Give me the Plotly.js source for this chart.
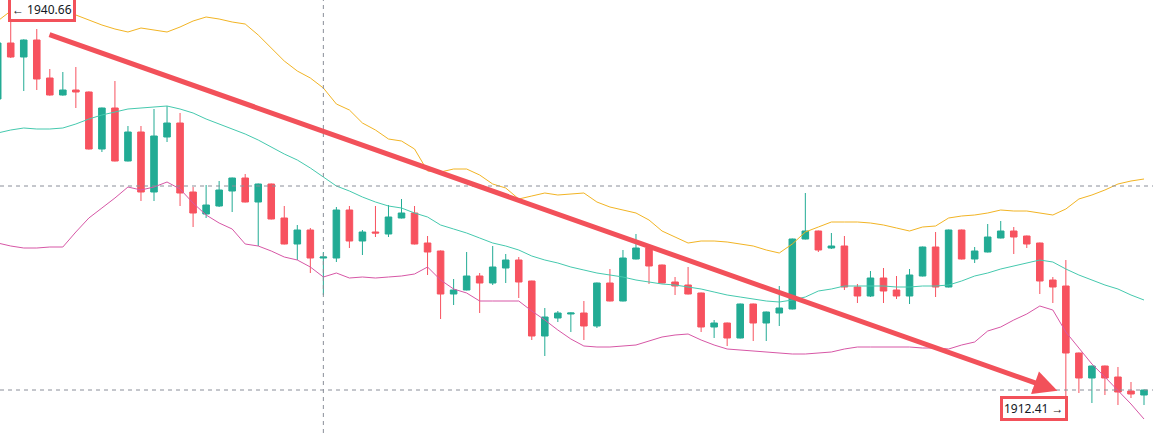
<!DOCTYPE html>
<html>
<head>
<meta charset="utf-8">
<script src="https://cdn.plot.ly/plotly-3.0.1.min.js"></script>
<style>
  html, body { margin: 0; padding: 0; background: #ffffff; }
  #chart { width: 1153px; height: 433px; }
</style>
</head>
<body>
<div id="chart"></div>
<script>
// ---- Data (XAUUSD-like price candles) ----
const openP = [1934.32,1938.24,1937.26,1938.45,1935.79,1934.60,1934.95,1934.81,1930.82,1933.69,
1929.98,1932.01,1927.81,1931.66,1932.64,1927.81,1926.27,1926.83,1927.88,1928.79,
1927.11,1928.37,1925.99,1924.17,1925.15,1923.19,1923.19,1926.55,1924.38,1925.01,
1924.87,1925.99,1926.34,1924.24,1923.68,1920.67,1920.95,1921.93,1921.44,1922.49,
1923.05,1921.58,1917.73,1918.99,1919.27,1919.34,1918.43,1921.44,1920.18,1923.12,
1923.89,1922.70,1921.51,1921.30,1920.74,1918.36,1918.64,1917.59,1919.97,1918.64,
1919.34,1919.62,1924.52,1925.08,1923.89,1924.03,1921.16,1920.53,1921.79,1920.95,
1920.53,1921.93,1923.96,1921.16,1925.15,1923.12,1923.61,1924.59,1925.08,1924.73,
1924.24,1921.65,1921.23,1916.54,1914.79,1915.63,1914.86,1913.88,1913.60];

const highP = [1938.45,1940.66,1938.50,1939.22,1936.42,1936.21,1936.56,1934.85,1933.72,1935.58,
1932.43,1932.43,1933.62,1933.83,1933.34,1928.16,1928.30,1928.58,1928.82,1929.07,
1928.40,1928.40,1926.83,1925.50,1925.29,1923.61,1926.76,1926.83,1925.15,1926.83,
1926.90,1927.32,1926.83,1924.73,1923.72,1921.72,1923.61,1922.14,1924.03,1923.47,
1923.26,1921.60,1919.69,1919.48,1919.38,1920.18,1921.47,1922.42,1923.75,1924.87,
1923.92,1922.73,1921.86,1922.56,1920.77,1918.85,1918.67,1920.00,1920.00,1919.44,
1921.23,1924.55,1927.74,1925.11,1924.94,1924.73,1921.37,1922.28,1922.49,1921.93,
1922.42,1923.99,1925.01,1925.18,1925.18,1923.96,1925.57,1925.78,1925.36,1924.76,
1924.27,1921.86,1923.05,1916.57,1915.66,1915.66,1915.56,1914.51,1913.98];

const lowP = [1934.18,1937.19,1934.88,1934.95,1934.55,1934.55,1933.69,1930.78,1930.61,1929.95,
1929.95,1927.18,1927.18,1931.31,1926.83,1925.36,1925.99,1926.76,1926.41,1927.08,
1924.03,1925.89,1924.14,1923.05,1922.14,1920.60,1922.91,1923.89,1923.40,1924.66,
1924.66,1925.96,1924.14,1922.00,1918.92,1919.90,1920.92,1919.34,1921.30,1921.44,
1920.39,1917.45,1916.33,1918.71,1918.01,1917.45,1918.29,1920.15,1920.15,1923.09,
1921.37,1921.41,1920.60,1920.64,1918.01,1917.59,1917.03,1917.56,1917.38,1917.38,
1918.43,1919.59,1924.49,1923.61,1923.82,1920.95,1920.04,1920.46,1920.04,1920.32,
1919.97,1921.90,1920.46,1921.13,1923.09,1922.84,1923.58,1924.56,1923.47,1923.89,
1920.67,1920.04,1912.41,1913.74,1913.04,1913.60,1912.90,1913.39,1912.90];

const closeP = [1938.24,1937.26,1938.45,1935.72,1934.60,1934.95,1934.81,1930.82,1933.69,1929.98,
1932.01,1927.81,1931.73,1932.64,1927.74,1926.34,1926.90,1927.95,1928.79,1927.11,
1928.37,1925.92,1924.17,1925.15,1923.19,1923.26,1926.55,1924.38,1925.01,1924.94,
1926.06,1926.34,1924.17,1923.61,1920.67,1920.95,1921.93,1921.44,1922.56,1923.05,
1921.51,1917.73,1919.06,1919.34,1919.34,1918.43,1921.44,1920.18,1923.19,1923.89,
1922.63,1921.44,1921.23,1920.67,1918.36,1918.64,1917.59,1919.97,1918.64,1919.41,
1919.69,1924.52,1925.08,1923.75,1924.03,1921.16,1920.53,1921.79,1920.88,1920.53,
1922.00,1923.96,1921.16,1925.15,1923.12,1923.68,1924.66,1925.08,1924.66,1924.17,
1921.58,1921.16,1916.54,1914.79,1915.63,1914.79,1913.81,1913.67,1913.95];

// Bollinger bands (upper / middle / lower), one value per candle
const bbUpper = [1939.78,1940.48,1940.62,1940.62,1940.55,1940.41,1940.20,1939.85,1939.50,1939.22,
1939.01,1939.29,1939.15,1939.01,1939.36,1939.78,1940.06,1939.92,1939.71,1939.57,
1938.80,1937.89,1936.98,1936.28,1935.79,1935.09,1933.97,1933.55,1932.64,1932.15,
1931.52,1931.38,1930.82,1929.28,1929.21,1929.42,1929.42,1929.00,1928.37,1928.09,
1927.32,1927.53,1927.74,1927.60,1927.67,1927.74,1927.11,1926.76,1926.55,1926.34,
1925.85,1925.08,1924.66,1924.24,1924.38,1924.38,1924.31,1924.17,1924.03,1923.75,
1923.54,1924.17,1925.01,1925.36,1925.71,1925.71,1925.71,1925.64,1925.50,1925.29,
1925.08,1925.36,1925.43,1925.99,1926.13,1926.20,1926.34,1926.55,1926.48,1926.48,
1926.34,1926.20,1926.62,1927.32,1927.60,1927.95,1928.37,1928.58,1928.72];

const bbMiddle = [1931.94,1932.15,1932.29,1932.22,1932.22,1932.29,1932.57,1932.92,1933.20,1933.41,
1933.62,1933.69,1933.76,1933.83,1933.62,1933.34,1932.92,1932.57,1932.22,1931.87,
1931.45,1930.96,1930.47,1930.05,1929.49,1928.86,1928.23,1927.88,1927.46,1927.11,
1926.83,1926.69,1926.34,1926.06,1925.50,1925.22,1924.94,1924.59,1924.24,1924.03,
1923.75,1923.33,1923.05,1922.84,1922.56,1922.35,1922.14,1922.00,1921.86,1921.65,
1921.51,1921.37,1921.30,1921.16,1921.02,1920.81,1920.60,1920.46,1920.32,1920.18,
1920.11,1920.25,1920.46,1920.88,1921.02,1921.23,1921.23,1921.23,1921.23,1921.16,
1921.16,1921.23,1921.23,1921.30,1921.58,1921.93,1922.14,1922.42,1922.63,1922.84,
1923.05,1922.91,1922.42,1922.00,1921.65,1921.30,1921.02,1920.60,1920.25];

const bbLower = [1924.24,1924.03,1923.89,1923.89,1923.96,1923.96,1925.01,1925.99,1926.69,1927.39,
1928.16,1927.95,1928.16,1928.51,1928.02,1927.04,1926.20,1925.64,1925.22,1924.17,
1924.03,1923.68,1923.26,1923.05,1922.56,1921.86,1922.14,1921.79,1921.86,1921.79,
1921.86,1921.93,1922.07,1922.56,1921.65,1921.02,1920.74,1920.18,1920.18,1920.18,
1920.18,1919.48,1918.85,1918.15,1917.52,1917.03,1916.96,1916.96,1917.03,1917.10,
1917.38,1917.66,1917.80,1917.87,1917.45,1917.10,1916.82,1916.75,1916.68,1916.61,
1916.54,1916.47,1916.47,1916.54,1916.61,1916.82,1916.96,1916.96,1916.96,1916.96,
1916.96,1916.89,1916.89,1916.82,1917.10,1917.31,1918.08,1918.36,1918.85,1919.27,
1919.83,1919.55,1918.01,1916.89,1915.77,1914.86,1913.95,1912.97,1911.92];

const highLabel = "← 1940.66";
const lowLabel = "1912.41 →";

// ---- Build chart ----
const idx = openP.map((_, i) => i);
const UP = "#22ab94", DOWN = "#f7525f";

const traces = [
  { type: "scatter", mode: "lines", x: idx, y: bbUpper, line: { color: "#f2b424", width: 1 }, hoverinfo: "skip" },
  { type: "scatter", mode: "lines", x: idx, y: bbMiddle, line: { color: "#45c9ae", width: 1 }, hoverinfo: "skip" },
  { type: "scatter", mode: "lines", x: idx, y: bbLower, line: { color: "#d757a6", width: 1 }, hoverinfo: "skip" },
  {
    type: "candlestick", x: idx, open: openP, high: highP, low: lowP, close: closeP,
    increasing: { line: { color: UP, width: 1 }, fillcolor: UP },
    decreasing: { line: { color: DOWN, width: 1 }, fillcolor: DOWN },
    whiskerwidth: 0
  }
];

const iHigh = highP.indexOf(Math.max(...highP));
const iLow = lowP.indexOf(Math.min(...lowP));

const layout = {
  width: 1153, height: 433,
  margin: { l: 0, r: 0, t: 0, b: 0 },
  paper_bgcolor: "#ffffff", plot_bgcolor: "#ffffff",
  showlegend: false,
  boxgap: 0.28,
  xaxis: { range: [0.177, 88.69], showgrid: false, zeroline: false, showticklabels: false,
           rangeslider: { visible: false }, fixedrange: true },
  yaxis: { range: [1910.94, 1941.25], showgrid: false, zeroline: false, showticklabels: false, fixedrange: true },
  shapes: [
    { type: "line", xref: "paper", x0: 0, x1: 1, yref: "y", y0: 1928.23, y1: 1928.23,
      line: { color: "#8a8e99", width: 1, dash: "4px,4px" } },
    { type: "line", xref: "paper", x0: 0, x1: 1, yref: "y", y0: 1913.95, y1: 1913.95,
      line: { color: "#8a8e99", width: 1, dash: "4px,4px" } },
    { type: "line", xref: "x", x0: 25, x1: 25, yref: "paper", y0: 0, y1: 1,
      line: { color: "#8a8e99", width: 1, dash: "4px,4px" } }
  ],
  annotations: [
    { xref: "x", yref: "y", x: 81.35, y: 1913.9, axref: "x", ayref: "y", ax: 3.86, ay: 1938.87,
      showarrow: true, arrowhead: 2, arrowsize: 0.95, arrowwidth: 5, arrowcolor: "#f2515a", text: "" },
    { xref: "paper", yref: "paper", x: 42 / 1153, y: 1 - 9 / 433, xanchor: "center", yanchor: "middle",
      text: highLabel, showarrow: false, font: { family: "Noto Sans, Arial, sans-serif", size: 12, color: "#131722" },
      bgcolor: "#ffffff", bordercolor: "#f2515a", borderwidth: 3, borderpad: 1 },
    { xref: "paper", yref: "paper", x: 1033.5 / 1153, y: 1 - 408 / 433, xanchor: "center", yanchor: "middle",
      text: lowLabel, showarrow: false, font: { family: "Noto Sans, Arial, sans-serif", size: 12, color: "#131722" },
      bgcolor: "#ffffff", bordercolor: "#f2515a", borderwidth: 3, borderpad: 1 }
  ]
};

Plotly.newPlot("chart", traces, layout, { displayModeBar: false, staticPlot: true });
</script>
</body>
</html>
